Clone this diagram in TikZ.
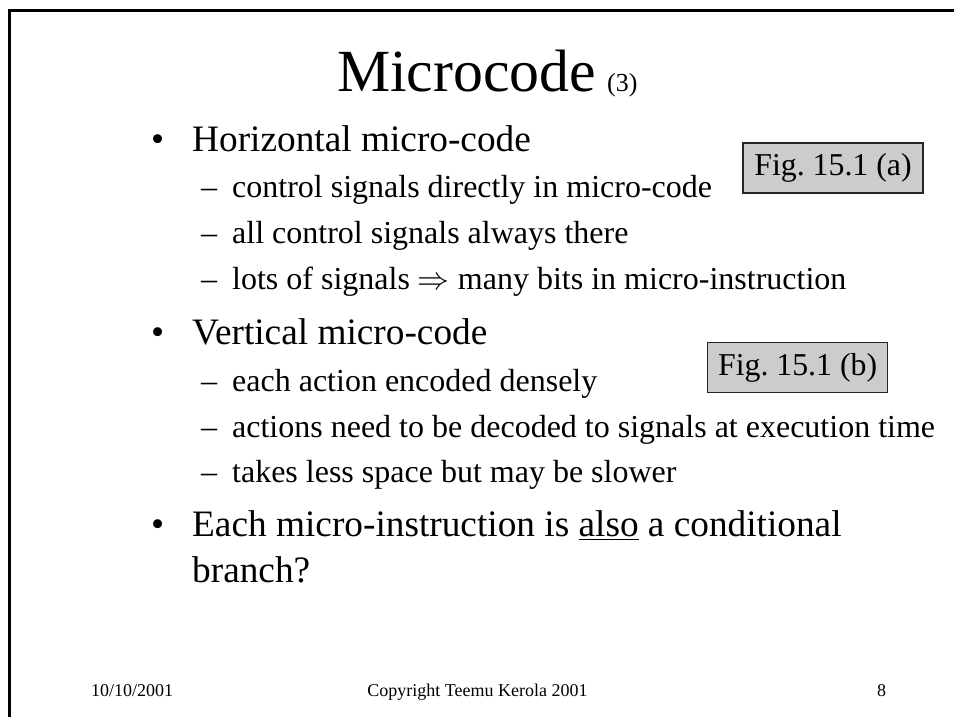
\RequirePackage{fix-cm}
\documentclass[tikz,border=0pt]{standalone}
\usepackage{fontspec}
\setmainfont{Liberation Serif}
\usepackage{amsmath}

\newcommand{\bulletitem}[1]{\makebox[41pt][l]{\textbullet}#1}
\newcommand{\dashitem}[1]{\makebox[31pt][l]{\textendash}#1}

\begin{document}
\begin{tikzpicture}[x=1pt, y=-1pt,
    slidetext/.style ={anchor=base west, inner sep=0pt},
    levelone/.style ={slidetext, font=\fontsize{37.3}{44}\selectfont},
    leveltwo/.style ={slidetext, font=\fontsize{32}{38}\selectfont},
    figref/.style ={draw=black!85, fill=black!20, line width=1.2pt, inner sep=0pt,
                    minimum width=180pt, minimum height=50pt, font=\fontsize{31.8}{38}\selectfont},
    footer/.style ={anchor=base, inner sep=0pt, font=\fontsize{18}{22}\selectfont}]
   \useasboundingbox (0,0) rectangle (954,717);
   \draw[line width=3pt] (9,717) -- (9,10.5) -- (954,10.5);

   \node[slidetext, font=\fontsize{59.8}{70}\selectfont] (title) at (337,92)
        {Microcode\hspace{11pt}{\fontsize{26}{30}\selectfont(3)}};

   \node[levelone] (horiz)   at (151,151) {\bulletitem{Horizontal micro-code}};
   \node[leveltwo] (ctrl)    at (201,197) {\dashitem{control signals directly in micro-code}};
   \node[leveltwo] (allsig)  at (201,243) {\dashitem{all control signals always there}};
   \node[leveltwo] (lots)    at (201,289) {\dashitem{lots of signals $\Rightarrow$ many bits in micro-instruction}};
   \node[levelone] (vert)    at (151,344) {\bulletitem{Vertical micro-code}};
   \node[leveltwo] (each)    at (201,391) {\dashitem{each action encoded densely}};
   \node[leveltwo] (decode)  at (201,437) {\dashitem{actions need to be decoded to signals at execution time}};
   \node[leveltwo] (slower)  at (201,482) {\dashitem{takes less space but may be slower}};
   \node[levelone] (eachmi)  at (151,536) {\bulletitem{Each micro-instruction is \underline{also} a conditional}};
   \node[levelone] (branchq) at (192,582) {branch?};

   \node[figref] (figa) at (833,168) {Fig.\ 15.1 (a)};
   \node[figref, anchor=south west] (figb) at (707,393) {Fig.\ 15.1 (b)};

   \node[footer, anchor=base west] (date) at (91,696) {10/10/2001};
   \node[footer] (copy) at (477.5,696) {Copyright Teemu Kerola 2001};
   \node[footer, anchor=base west] (page) at (877,696) {8};
 \end{tikzpicture}
\end{document}
